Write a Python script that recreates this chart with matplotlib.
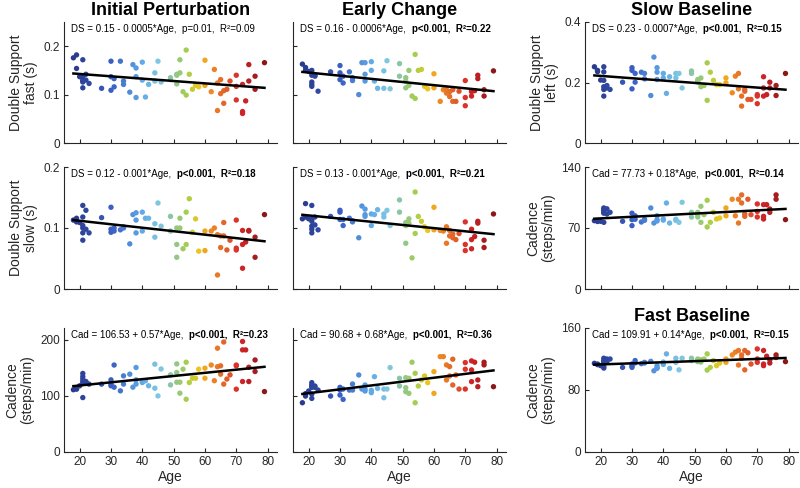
import numpy as np
import matplotlib
matplotlib.use('Agg')
import matplotlib.pyplot as plt
from matplotlib.colors import LinearSegmentedColormap

plt.rcParams['font.family'] = ['Liberation Sans', 'DejaVu Sans']

# subject ages (shared by every panel)
ages = np.array([
    18, 19, 19, 20,
    21, 21, 21, 21, 21, 21,
    22, 22, 23, 27,
    30, 30, 30, 31, 31,
    33, 34, 34, 36, 37,
    38, 38, 38, 40, 40,
    41, 42, 44, 44, 45, 46,
    49, 49, 51, 51, 51,
    52, 52, 53, 54, 54,
    55, 56, 57, 58, 60, 60,
    62, 63, 64, 64, 65, 65,
    66, 66, 67, 68,
    70, 70, 70, 72, 72, 72,
    73, 74, 74, 76, 76, 79])

# double support, fast leg, initial perturbation (s)
ds_fast_ip = [
    0.176, 0.182, 0.154, 0.137,
    0.172, 0.130, 0.126, 0.114, 0.137, 0.128,
    0.130, 0.142, 0.123, 0.113,
    0.169, 0.137, 0.109, 0.133, 0.116,
    0.169, 0.121, 0.128, 0.105, 0.162,
    0.155, 0.137, 0.094, 0.167, 0.130,
    0.095, 0.121, 0.145, 0.128, 0.169, 0.126,
    0.135, 0.131, 0.142, 0.140, 0.122,
    0.145, 0.172, 0.106, 0.192, 0.099,
    0.142, 0.111, 0.119, 0.116, 0.171, 0.119,
    0.106, 0.152, 0.124, 0.067, 0.131, 0.102,
    0.108, 0.082, 0.111, 0.128,
    0.140, 0.117, 0.089, 0.121, 0.065, 0.061,
    0.087, 0.162, 0.128, 0.138, 0.111, 0.166]

# double support, fast leg, early change (s)
ds_fast_ec = [
    0.163, 0.156, 0.150, 0.148,
    0.150, 0.126, 0.121, 0.117, 0.140, 0.145,
    0.140, 0.138, 0.107, 0.147,
    0.160, 0.145, 0.131, 0.124, 0.138,
    0.147, 0.129, 0.135, 0.100, 0.166,
    0.166, 0.142, 0.128, 0.168, 0.150,
    0.128, 0.113, 0.149, 0.113, 0.170, 0.112,
    0.164, 0.138, 0.135, 0.128, 0.114,
    0.150, 0.119, 0.097, 0.183, 0.092,
    0.150, 0.152, 0.117, 0.112, 0.143, 0.114,
    0.086, 0.110, 0.110, 0.103, 0.096, 0.106,
    0.086, 0.110, 0.086, 0.107,
    0.129, 0.094, 0.077, 0.106, 0.097, 0.108,
    0.108, 0.140, 0.133, 0.110, 0.097, 0.149]

# double support, left leg, slow baseline (s)
ds_left_slow = [
    0.252, 0.240, 0.236, 0.208,
    0.252, 0.235, 0.186, 0.177, 0.155, 0.207,
    0.190, 0.182, 0.177, 0.201,
    0.249, 0.240, 0.179, 0.230, 0.201,
    0.234, 0.212, 0.230, 0.157, 0.284,
    0.249, 0.234, 0.210, 0.215, 0.230,
    0.164, 0.219, 0.230, 0.215, 0.230, 0.182,
    0.238, 0.230, 0.204, 0.210, 0.201,
    0.215, 0.186, 0.190, 0.265, 0.141,
    0.234, 0.207, 0.193, 0.193, 0.215, 0.199,
    0.166, 0.221, 0.230, 0.179, 0.155, 0.122,
    0.177, 0.171, 0.144, 0.144,
    0.155, 0.130, 0.160, 0.219, 0.182, 0.155,
    0.160, 0.201, 0.182, 0.190, 0.157, 0.230]

# double support, slow leg, initial perturbation (s)
ds_slow_ip = [
    0.113, 0.116, 0.110, 0.109,
    0.137, 0.118, 0.104, 0.100, 0.092, 0.080,
    0.129, 0.098, 0.092, 0.117,
    0.134, 0.098, 0.093, 0.100, 0.095,
    0.097, 0.100, 0.102, 0.074, 0.122,
    0.125, 0.113, 0.092, 0.095, 0.126,
    0.116, 0.116, 0.107, 0.085, 0.141, 0.103,
    0.119, 0.095, 0.073, 0.052, 0.100,
    0.116, 0.100, 0.066, 0.126, 0.073,
    0.148, 0.093, 0.115, 0.062, 0.095, 0.063,
    0.095, 0.100, 0.089, 0.023, 0.087, 0.068,
    0.109, 0.087, 0.064, 0.080,
    0.113, 0.067, 0.064, 0.096, 0.073, 0.034,
    0.077, 0.096, 0.095, 0.085, 0.052, 0.122]

# double support, slow leg, early change (s)
ds_slow_ec = [
    0.115, 0.140, 0.118, 0.115,
    0.137, 0.115, 0.111, 0.103, 0.098, 0.092,
    0.118, 0.105, 0.097, 0.119,
    0.129, 0.126, 0.114, 0.114, 0.104,
    0.116, 0.110, 0.112, 0.084, 0.136,
    0.131, 0.119, 0.122, 0.123, 0.104,
    0.122, 0.130, 0.123, 0.118, 0.129, 0.104,
    0.146, 0.126, 0.109, 0.075, 0.104,
    0.115, 0.108, 0.051, 0.159, 0.091,
    0.119, 0.111, 0.102, 0.096, 0.134, 0.097,
    0.096, 0.095, 0.102, 0.075, 0.087, 0.096,
    0.084, 0.090, 0.081, 0.091,
    0.110, 0.073, 0.063, 0.098, 0.081, 0.066,
    0.086, 0.111, 0.108, 0.080, 0.068, 0.123]

# cadence, slow baseline (steps/min)
cad_slow_base = [
    78.4, 78.4, 77.5, 77.7,
    93, 91, 87, 76.5, 88, 90,
    92, 86, 88, 77.7,
    87, 79.6, 72.7, 84, 80,
    76.9, 78.8, 80, 93, 75.7,
    84, 79.6, 78, 80.3, 79,
    98.7, 75.7, 78.8, 80, 76.5, 99.5,
    88, 82.6, 88, 82.6, 85,
    94.9, 76.5, 85.3, 101.8, 71.2,
    76.5, 88, 80.3, 81.5, 93, 84,
    103, 84, 103, 75.7, 108, 98.7,
    83.4, 86, 103, 85.3,
    97.6, 82.6, 89, 96.8, 83.4, 80.3,
    96.8, 91.8, 88, 108, 103, 79.6]

# cadence, initial perturbation (steps/min)
cad_ip = [
    111, 112, 113, 118,
    140, 134.5, 130, 125.6, 97, 122.6,
    125.6, 124, 121, 121,
    128.6, 121, 118, 155, 115.5,
    109, 135.7, 121, 138.7, 115.5,
    150.6, 128.6, 121, 123.8, 125.6,
    127, 118, 156.5, 113.7, 100, 148,
    137.5, 119.6, 157, 141.7, 124.4,
    124.4, 104.8, 147.6, 160, 94,
    123.8, 131.5, 131.5, 147.6, 149.4, 131.5,
    155, 127, 185, 152, 153.6, 138.7,
    196, 121, 130, 137.5,
    155, 153.6, 112, 197, 182, 125.6,
    182, 151, 125.6, 164, 143.5, 107.7]

# cadence, early change (steps/min)
cad_ec = [
    87.8, 99.7, 104, 108.7,
    123.6, 119.4, 115.2, 103.3, 95.5, 117.6,
    115.2, 117.6, 110.4, 99.7,
    115.2, 110.4, 101.5, 112.2, 93.7,
    110.4, 121.2, 110.4, 137.3, 112.2,
    119.4, 108.7, 112, 105.7, 110,
    134.3, 113.4, 112.2, 96.7, 112.2, 150.4,
    131.3, 117.6, 132.5, 107.5, 114.6,
    131.3, 104.5, 160, 140.3, 87.8,
    117.6, 128.4, 135.5, 123.6, 143.3, 104.5,
    170, 170, 155.2, 128.4, 152.2, 135.5,
    165.4, 119.4, 137.3, 112.2,
    159.4, 147.5, 112.2, 162.4, 146.3, 125.4,
    160, 128.4, 116.4, 160, 155.2, 116.4]

# cadence, fast baseline (steps/min)
cad_fast_base = [
    114.4, 113.5, 112.7, 111.4,
    121, 118, 114.8, 110.5, 108.3, 116,
    120, 116.6, 120, 109.2,
    113.5, 109.2, 111, 118, 115,
    114, 115.7, 114.8, 117, 104.8,
    107.9, 111.4, 109, 113, 116,
    126.6, 107.9, 121, 115.7, 106, 121,
    121, 118, 120, 116.6, 118,
    119, 116, 120, 126.6, 105.7,
    109.2, 118, 111.4, 114.8, 120, 115.7,
    125.3, 128.8, 131, 112.2, 125.3, 121,
    131, 106, 128, 113.5,
    133, 115.7, 120, 131, 113.5, 111.4,
    123.6, 119, 114.8, 125.3, 122, 116.6]

# (row, col): values, y limit, y ticks, y label, stats text (plain, bold), title
panels = {
    (0, 0): (ds_fast_ip, 0.25, [0, 0.1, 0.2], 'Double Support\nfast (s)',
             ('DS = 0.15 - 0.0005*Age,  p=0.01,  R²=0.09', ''), 'Initial Perturbation'),
    (0, 1): (ds_fast_ec, 0.25, [0, 0.1, 0.2], None,
             ('DS = 0.16 - 0.0006*Age,  ', 'p<0.001,  R²=0.22'), 'Early Change'),
    (0, 2): (ds_left_slow, 0.4, [0, 0.2, 0.4], 'Double Support\nleft (s)',
             ('DS = 0.23 - 0.0007*Age,  ', 'p<0.001,  R²=0.15'), 'Slow Baseline'),
    (1, 0): (ds_slow_ip, 0.2, [0, 0.1, 0.2], 'Double Support\nslow (s)',
             ('DS = 0.12 - 0.001*Age,  ', 'p<0.001,  R²=0.18'), None),
    (1, 1): (ds_slow_ec, 0.2, [0, 0.1, 0.2], None,
             ('DS = 0.13 - 0.001*Age,  ', 'p<0.001,  R²=0.21'), None),
    (1, 2): (cad_slow_base, 140, [0, 70, 140], 'Cadence\n(steps/min)',
             ('Cad = 77.73 + 0.18*Age,  ', 'p<0.001,  R²=0.14'), None),
    (2, 0): (cad_ip, 221, [0, 100, 200], 'Cadence\n(steps/min)',
             ('Cad = 106.53 + 0.57*Age,  ', 'p<0.001,  R²=0.23'), None),
    (2, 1): (cad_ec, 221, [0, 100, 200], None,
             ('Cad = 90.68 + 0.68*Age,  ', 'p<0.001,  R²=0.36'), None),
    (2, 2): (cad_fast_base, 160, [0, 80, 160], 'Cadence\n(steps/min)',
             ('Cad = 109.91 + 0.14*Age,  ', 'p<0.001,  R²=0.15'), 'Fast Baseline'),
}

# age colour scale (navy -> blue -> cyan -> green -> yellow -> orange -> red)
age_cmap = LinearSegmentedColormap.from_list('age', [
    (0.00, '#2a3a8e'), (0.20, '#3a5fc2'), (0.35, '#5ea6e6'),
    (0.45, '#80c8e2'), (0.52, '#8cc49c'), (0.60, '#a8cf48'),
    (0.66, '#f2c41c'), (0.72, '#ee8a22'), (0.80, '#e0602a'),
    (0.87, '#d8262a'), (1.00, '#8a1818')])

W, H = 800, 488
col_left = [64, 293, 585]
col_width = 213
row_top = [22, 167, 328]
row_bottom = [143, 289, 452]
ink = '#262626'

fig = plt.figure(figsize=(W / 100, H / 100), dpi=100)

for (r, c), (vals, ytop, yticks, ylabel, stats, title) in panels.items():
    ax = fig.add_axes([col_left[c] / W, 1 - row_bottom[r] / H,
                       col_width / W, (row_bottom[r] - row_top[r]) / H])
    vals = np.asarray(vals)
    ax.scatter(ages, vals, c=ages, cmap=age_cmap, vmin=18, vmax=79,
               s=15, linewidths=0, zorder=2)
    # least-squares line over the age range
    k, b = np.polyfit(ages, vals, 1)
    xs = np.array([ages.min(), ages.max()])
    ax.plot(xs, k * xs + b, color='black', lw=1.8, zorder=3)

    ax.set_xlim(15, 83)
    ax.set_ylim(0, ytop)
    ax.set_xticks([20, 30, 40, 50, 60, 70, 80])
    ax.set_yticks(yticks)
    ax.yaxis.set_major_formatter(plt.FuncFormatter(lambda v, p: f'{v:g}'))
    for s in ['top', 'right']:
        ax.spines[s].set_visible(False)
    for s in ['left', 'bottom']:
        ax.spines[s].set_color(ink)
        ax.spines[s].set_linewidth(0.8)
    ax.tick_params(direction='in', length=3, width=0.8, colors=ink,
                   labelsize=8.5, pad=3)
    if r < 2:
        ax.tick_params(axis='x', labelbottom=False)
    else:
        ax.set_xlabel('Age', fontsize=10, color=ink, labelpad=1)
    if c == 1:
        ax.tick_params(axis='y', labelleft=False)
    if ylabel:
        ax.set_ylabel(ylabel, fontsize=10, color=ink, labelpad=4,
                      linespacing=1.1)
    if title:
        ax.set_title(title, fontsize=13, fontweight='bold', pad=5)

    t1 = ax.text(0.035, 0.985, stats[0], transform=ax.transAxes,
                 fontsize=7, va='top', ha='left', color='black')
    if stats[1]:
        ax.annotate(stats[1], xy=(1, 0), xycoords=t1, va='bottom',
                    ha='left', fontsize=7, fontweight='bold')

fig.savefig('out.png', dpi=100)
